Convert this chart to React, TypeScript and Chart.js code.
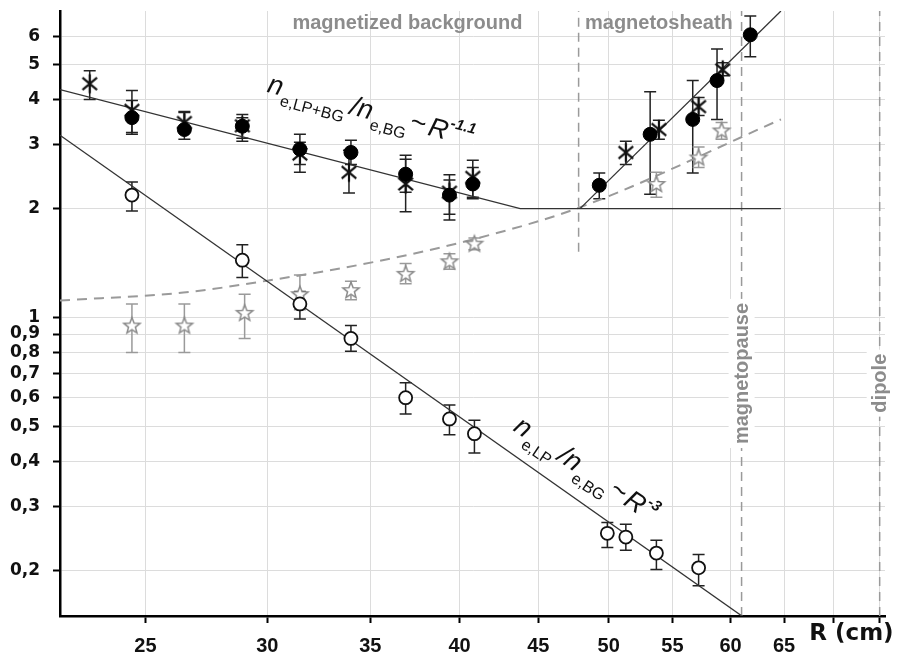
import React, { useEffect, useRef } from 'react';
import { Chart, registerables } from 'chart.js';
Chart.register(...registerables);

const FONT = "'Liberation Sans', Arial, Helvetica, sans-serif";
const WIDE = "'DejaVu Sans', 'Liberation Sans', sans-serif";

// axis ticks
const X_TICKS = [25, 30, 35, 40, 45, 50, 55, 60, 65, 70, 75];
const X_TICK_LABELS = ['25', '30', '35', '40', '45', '50', '55', '60', '65', '', ''];
const Y_TICKS = [0.2, 0.3, 0.4, 0.5, 0.6, 0.7, 0.8, 0.9, 1, 2, 3, 4, 5, 6];
const Y_TICK_LABELS = ['0,2', '0,3', '0,4', '0,5', '0,6', '0,7', '0,8', '0,9', '1', '2', '3', '4', '5', '6'];

// n_e,LP+BG / n_e,BG  (filled circles)
const R_LPBG = [24.5, 26.5, 28.9, 31.5, 34.0, 36.9, 39.4, 40.8, 49.3, 53.2, 56.7, 58.8, 61.8];
const N_LPBG = [3.57, 3.31, 3.38, 2.92, 2.86, 2.49, 2.18, 2.34, 2.32, 3.21, 3.53, 4.52, 6.05];
const N_LPBG_HI = [3.98, 3.69, 3.57, 3.05, 3.09, 2.81, 2.40, 2.60, 2.51, 4.21, 4.52, 5.53, 6.82];
const N_LPBG_LO = [3.21, 3.11, 3.07, 2.65, 2.65, 2.22, 1.93, 2.13, 2.13, 2.19, 2.51, 3.53, 5.26];

// second measurement (asterisks)
const R_AST = [23.0, 24.5, 26.5, 28.9, 31.5, 33.9, 36.9, 39.4, 40.8, 51.3, 53.9, 57.2, 59.3];
const N_AST = [4.43, 3.74, 3.46, 3.39, 2.83, 2.52, 2.34, 2.22, 2.44, 2.86, 3.31, 3.83, 4.84];
const N_AST_HI = [4.81, 4.24, 3.71, 3.64, 3.21, 2.90, 2.74, 2.48, 2.72, 3.07, 3.51, 4.06, 5.06];
const N_AST_LO = [4.01, 3.25, 3.25, 3.13, 2.52, 2.21, 1.96, 1.86, 2.15, 2.65, 3.11, 3.62, 4.66];

// n_e,LP / n_e,BG (open circles)
const R_LP = [24.5, 28.9, 31.5, 34.0, 36.9, 39.4, 40.9, 49.9, 51.3, 53.7, 57.2];
const N_LP = [2.18, 1.44, 1.09, 0.875, 0.60, 0.524, 0.477, 0.253, 0.247, 0.223, 0.203];
const N_LP_HI = [2.37, 1.59, 1.18, 0.95, 0.66, 0.573, 0.52, 0.271, 0.268, 0.242, 0.221];
const N_LP_LO = [1.97, 1.29, 0.99, 0.806, 0.541, 0.474, 0.422, 0.231, 0.227, 0.201, 0.181];

// gray open stars
const R_STAR = [24.5, 26.5, 29.0, 31.5, 34.0, 36.9, 39.4, 40.9, 53.7, 57.2, 59.2];
const N_STAR = [0.95, 0.95, 1.03, 1.16, 1.19, 1.32, 1.43, 1.60, 2.34, 2.77, 3.29];
const N_STAR_HI = [1.09, 1.09, 1.16, 1.31, 1.26, 1.41, 1.50, 1.66, 2.52, 2.96, 3.46];
const N_STAR_LO = [0.80, 0.80, 0.875, 1.05, 1.12, 1.24, 1.36, 1.54, 2.15, 2.60, 3.11];

// fit lines (end points)
const FIT_LPBG_R = [22, 43.8, 64.7];
const FIT_LPBG_N = [4.27, 2.0, 2.0];
const FIT_SHEATH_R = [47.9, 64.7];
const FIT_SHEATH_N = [2.0, 7.04];
const FIT_LP_R = [22, 62];
const FIT_LP_N = [3.19, 0.1425];
const MODEL_R = [22.0, 26.46, 30.0, 35.52, 40.94, 47.77, 64.7];
const MODEL_N = [1.114, 1.172, 1.264, 1.435, 1.65, 2.008, 3.53];

// boundaries
const SHEATH_R = 47.8;
const SHEATH_N = [1.52, 7.04];
const MAGNETOPAUSE_R = 61.0;
const DIPOLE_R = 75;
const FULL_N = [0.1494, 7.04];

const zip = (xs: number[], ys: number[]) => xs.map((x, i) => ({ x, y: ys[i] }));

function makeAsterisk() {
  const c = document.createElement('canvas');
  c.width = 22; c.height = 22;
  const g = c.getContext('2d')!;
  g.strokeStyle = '#111'; g.lineWidth = 2.2; g.lineCap = 'butt';
  const cx = 11, cy = 11, r = 9.5;
  const angs = [90, 40, 140];
  g.beginPath();
  for (const a of angs) {
    const t = (a * Math.PI) / 180;
    g.moveTo(cx - r * Math.cos(t), cy - r * Math.sin(t));
    g.lineTo(cx + r * Math.cos(t), cy + r * Math.sin(t));
  }
  g.stroke();
  return c;
}

function makeStar() {
  const c = document.createElement('canvas');
  c.width = 22; c.height = 22;
  const g = c.getContext('2d')!;
  const cx = 11, cy = 11.5, ro = 8.5, ri = 3.6;
  g.beginPath();
  for (let i = 0; i < 10; i++) {
    const r = i % 2 === 0 ? ro : ri;
    const t = -Math.PI / 2 + (i * Math.PI) / 5;
    const px = cx + r * Math.cos(t), py = cy + r * Math.sin(t);
    if (i === 0) g.moveTo(px, py); else g.lineTo(px, py);
  }
  g.closePath();
  g.fillStyle = '#fff'; g.fill();
  g.strokeStyle = '#8a8a8a'; g.lineWidth = 1.5; g.stroke();
  return c;
}

const ERRORS = [
  { r: R_LPBG, hi: N_LPBG_HI, lo: N_LPBG_LO, color: '#222' },
  { r: R_AST, hi: N_AST_HI, lo: N_AST_LO, color: '#222' },
  { r: R_LP, hi: N_LP_HI, lo: N_LP_LO, color: '#222' },
  { r: R_STAR, hi: N_STAR_HI, lo: N_STAR_LO, color: '#9a9a9a' },
];

const errorBarPlugin = {
  id: 'errorBars',
  beforeDatasetsDraw(chart: any) {
    const { ctx, scales } = chart;
    ctx.save();
    for (const e of ERRORS) {
      ctx.strokeStyle = e.color;
      ctx.lineWidth = 1.5;
      e.r.forEach((r, i) => {
        const x = scales.x.getPixelForValue(r);
        const y1 = scales.y.getPixelForValue(e.hi[i]);
        const y2 = scales.y.getPixelForValue(e.lo[i]);
        ctx.beginPath();
        ctx.moveTo(x, y1); ctx.lineTo(x, y2);
        ctx.moveTo(x - 6, y1); ctx.lineTo(x + 6, y1);
        ctx.moveTo(x - 6, y2); ctx.lineTo(x + 6, y2);
        ctx.stroke();
      });
    }
    ctx.restore();
  },
};

type Part = { t: string; font: string; dy?: number; gap?: number };
function drawFormula(ctx: CanvasRenderingContext2D, x: number, y: number, deg: number, parts: Part[]) {
  ctx.save();
  ctx.translate(x, y);
  ctx.rotate((deg * Math.PI) / 180);
  ctx.textAlign = 'left';
  ctx.textBaseline = 'alphabetic';
  ctx.fillStyle = '#111';
  let u = 0;
  for (const p of parts) {
    ctx.font = p.font;
    u += p.gap || 0;
    ctx.fillText(p.t, u, p.dy || 0);
    u += ctx.measureText(p.t).width;
  }
  ctx.restore();
}

const BIG = `italic 27px ${FONT}`;
const SUB = `16px ${FONT}`;
const SUP = `italic bold 15px ${FONT}`;

const annotationPlugin = {
  id: 'annotations',
  afterDatasetsDraw(chart: any) {
    const { ctx, scales } = chart;
    const X = (v: number) => scales.x.getPixelForValue(v);
    const Y = (v: number) => scales.y.getPixelForValue(v);
    ctx.save();
    // region labels
    ctx.font = `bold 20px ${FONT}`;
    ctx.fillStyle = '#8c8c8c';
    ctx.textAlign = 'center';
    ctx.textBaseline = 'middle';
    ctx.fillText('magnetized background', X(37.0), Y(6.52));
    ctx.fillText('magnetosheath', X(53.9), Y(6.52));

    // vertical labels with white background
    const vlabel = (txt: string, xv: number, yv: number) => {
      ctx.save();
      ctx.translate(X(xv), Y(yv));
      ctx.rotate(-Math.PI / 2);
      ctx.font = `bold 20px ${FONT}`;
      const w = ctx.measureText(txt).width;
      ctx.fillStyle = '#fff';
      ctx.fillRect(-w / 2 - 4, -13, w + 8, 26);
      ctx.fillStyle = '#8c8c8c';
      ctx.textAlign = 'center';
      ctx.textBaseline = 'middle';
      ctx.fillText(txt, 0, 1);
      ctx.restore();
    };
    vlabel('magnetopause', MAGNETOPAUSE_R, 0.70);
    vlabel('dipole', DIPOLE_R, 0.658);

    // formulas
    drawFormula(ctx, X(29.95), Y(4.21), 15, [
      { t: 'n', font: BIG },
      { t: 'e,LP+BG', font: SUB, dy: 10, gap: 1 },
      { t: '/n', font: BIG, gap: 4 },
      { t: 'e,BG', font: SUB, dy: 10, gap: 1 },
      { t: '~', font: `27px ${FONT}`, gap: 2, dy: -1 },
      { t: 'R', font: BIG, gap: 3 },
      { t: '-1.1', font: SUP, dy: -13, gap: 1 },
    ]);
    drawFormula(ctx, X(43.28), Y(0.4887), 34, [
      { t: 'n', font: BIG },
      { t: 'e,LP', font: SUB, dy: 10, gap: 1 },
      { t: '/n', font: BIG, gap: 4 },
      { t: 'e,BG', font: SUB, dy: 10, gap: 1 },
      { t: '~', font: `27px ${FONT}`, gap: 2, dy: -1 },
      { t: 'R', font: BIG, gap: 2 },
      { t: '-3', font: SUP, dy: -13, gap: 1 },
    ]);

    // axis title
    ctx.font = `bold 23px ${WIDE}`;
    ctx.fillStyle = '#111';
    ctx.textAlign = 'center';
    ctx.textBaseline = 'middle';
    ctx.fillText('R (cm)', X(71.9), scales.x.top + 18);
    ctx.restore();
  },
};

export default function App() {
  const ref = useRef<HTMLCanvasElement>(null);
  useEffect(() => {
    const asterisk = makeAsterisk();
    const star = makeStar();
    const lineDs = (data: any[], color: string, width: number, dash: number[] = []) => ({
      data,
      showLine: true,
      borderColor: color,
      borderWidth: width,
      borderDash: dash,
      pointRadius: 0,
      fill: false,
    });
    const chart = new Chart(ref.current!, {
      type: 'scatter',
      data: {
        datasets: [
          {
            data: zip(R_LPBG, N_LPBG),
            pointStyle: 'circle',
            pointRadius: 7,
            backgroundColor: '#000',
            borderColor: '#000',
            borderWidth: 1,
          },
          { data: zip(R_AST, N_AST), pointStyle: asterisk as any, pointRadius: 10 },
          {
            data: zip(R_LP, N_LP),
            pointStyle: 'circle',
            pointRadius: 6.5,
            backgroundColor: '#fff',
            borderColor: '#111',
            borderWidth: 1.8,
          },
          { data: zip(R_STAR, N_STAR), pointStyle: star as any, pointRadius: 10 },
          lineDs(zip(FIT_LPBG_R, FIT_LPBG_N), '#333', 1.3),
          lineDs(zip(FIT_SHEATH_R, FIT_SHEATH_N), '#333', 1.3),
          lineDs(zip(FIT_LP_R, FIT_LP_N), '#333', 1.3),
          { ...lineDs(zip(MODEL_R, MODEL_N), '#9a9a9a', 2, [10, 7]), cubicInterpolationMode: 'monotone' },
          lineDs(zip([SHEATH_R, SHEATH_R], SHEATH_N), '#9a9a9a', 1.5, [9, 6]),
          lineDs(zip([MAGNETOPAUSE_R, MAGNETOPAUSE_R], FULL_N), '#9a9a9a', 1.5, [9, 6]),
          lineDs(zip([DIPOLE_R, DIPOLE_R], FULL_N), '#9a9a9a', 1.5, [9, 6]),
        ] as any,
      },
      options: {
        animation: false,
        responsive: false,
        devicePixelRatio: 1,
        layout: { padding: { top: 8, right: 16, left: 0, bottom: 0 } },
        plugins: { legend: { display: false }, tooltip: { enabled: false } },
        scales: {
          x: {
            type: 'logarithmic',
            min: 22,
            max: 75.6,
            afterBuildTicks: (s: any) => {
              s.ticks = X_TICKS.map((v) => ({ value: v }));
            },
            afterFit: (s: any) => {
              s.height = 46;
              s.paddingLeft = 0;
              s.paddingRight = 0;
            },
            ticks: {
              autoSkip: false,
              maxRotation: 0,
              color: '#111',
              padding: 11,
              font: { family: FONT, size: 20, weight: 'bold' },
              callback: (_v: any, i: number) => X_TICK_LABELS[i],
            },
            grid: { color: '#dcdcdc', lineWidth: 1, tickColor: '#000', tickLength: 7, tickWidth: 2 },
            border: { color: '#000', width: 2.5 },
          },
          y: {
            type: 'logarithmic',
            min: 0.1494,
            max: 7.04,
            afterBuildTicks: (s: any) => {
              s.ticks = Y_TICKS.map((v) => ({ value: v }));
            },
            afterFit: (s: any) => {
              s.width = 60;
              s.paddingTop = 0;
              s.paddingBottom = 0;
            },
            ticks: {
              autoSkip: false,
              color: '#111',
              padding: 13,
              font: { family: WIDE, size: 17, weight: 'bold' },
              callback: (_v: any, i: number) => Y_TICK_LABELS[i],
            },
            grid: { color: '#dcdcdc', lineWidth: 1, tickColor: '#000', tickLength: 7, tickWidth: 2 },
            border: { color: '#000', width: 2.5 },
          },
        },
      } as any,
      plugins: [errorBarPlugin, annotationPlugin],
    });
    return () => chart.destroy();
  }, []);
  return (
    <div style={{ position: 'fixed', left: 0, top: 0, width: 901, height: 662, background: '#fff' }}>
      <canvas ref={ref} width={901} height={662} style={{ display: 'block', width: 901, height: 662 }} />
    </div>
  );
}
